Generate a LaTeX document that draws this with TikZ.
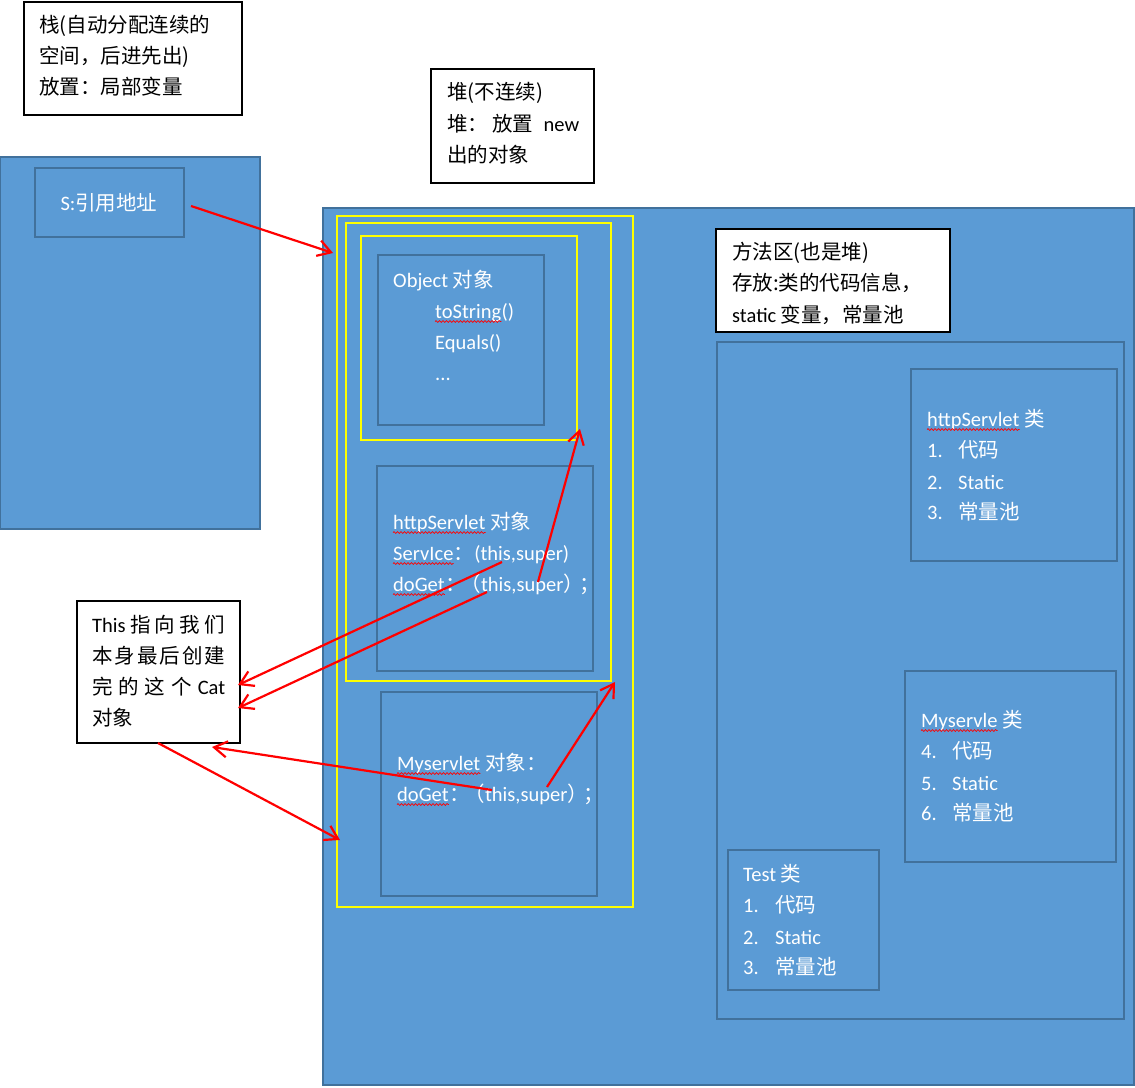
\documentclass[tikz,border=0pt]{standalone}
\usepackage{fontspec}
\setmainfont{Carlito}
\newfontfamily\cjkf{Noto Sans CJK SC}
\newcommand\zh[1]{{\cjkf #1}}
\usetikzlibrary{arrows.meta,decorations.pathmorphing}
\definecolor{mblue}{HTML}{5B9BD5}
\definecolor{mborder}{HTML}{41719C}
\definecolor{myellow}{HTML}{FFFF00}
\newcommand\rbox[6]{\node[#6, inner sep=0, minimum width={#4-#2}, minimum height={#5-#3}] (#1) at ({(#2+#4)/2},{(#3+#5)/2}) {};}
\newcommand\wv[1]{\draw[wave] ([yshift=-3.5pt]#1.base west) -- ([yshift=-3.5pt]#1.base east);}
\begin{document}
\begin{tikzpicture}[x=1pt,y=-1pt,
  bluebox/.style={fill=mblue, draw=mborder, line width=2.4pt},
  innerbox/.style={draw=mborder, line width=2.4pt},
  ybox/.style={draw=myellow, line width=2.4pt},
  labelbox/.style={fill=white, draw=black, line width=2.4pt},
  wtxt/.style={text=white, anchor=base west, inner sep=0, font=\fontsize{20.5}{24}\selectfont},
  btxt/.style={text=black, anchor=base west, inner sep=0, font=\fontsize{20.5}{24}\selectfont},
  wave/.style={draw=red, line width=0.7pt, decorate, decoration={snake, segment length=3.5pt, amplitude=0.9pt}},
  redarrow/.style={draw=red, line width=2.2pt, -{Straight Barb[length=13pt,width=16pt]}}]
\useasboundingbox (0,0) rectangle (1135,1087);

% ---- stack ----
\rbox{stacklbl}{24}{2}{242}{115}{labelbox}
\node[btxt] (stk1) at (39,32) {\zh{栈(自动分配连续的}};
\node[btxt] (stk2) at (39,63) {\zh{空间，后进先出)}};
\node[btxt] (stk3) at (39,94) {\zh{放置：局部变量}};

\rbox{stack}{0}{157}{260}{529}{bluebox}
\rbox{sbox}{35}{168}{184}{237}{innerbox}
\node[wtxt, anchor=base] (stxt) at (109,210) {S:\zh{引用地址}};

% ---- heap ----
\rbox{heaplbl}{431}{69}{594}{183}{labelbox}
\node[btxt] (hp1) at (447,99) {\zh{堆(不连续)}};
\node[btxt] (hp2) at (447,131) {\makebox[132pt][s]{\zh{堆：}\hspace{4pt}\zh{放置}\hfill new}};
\node[btxt] (hp3) at (447,162) {\zh{出的对象}};

\rbox{heap}{323}{208}{1134}{1085}{bluebox}

\rbox{y1}{337}{216}{633}{907}{ybox}
\rbox{y2}{346}{223}{611}{681}{ybox}
\rbox{y3}{361}{236}{577}{440}{ybox}

% Object
\rbox{objbox}{378}{255}{544}{425}{innerbox}
\node[wtxt] (ob1) at (393,287) {Object \zh{对象}};
\node[wtxt] (ob2w) at (435,318) {toString};
\node[wtxt] (ob2) at (ob2w.base east) {()};
\node[wtxt] (ob3) at (435,349) {Equals()};
\node[wtxt] (ob4) at (435,380) {...};

% httpServlet object
\rbox{hsobj}{377}{466}{593}{671}{innerbox}
\node[wtxt] (hs1w) at (393,529) {httpServlet};
\node[wtxt] (hs1) at (hs1w.base east) {\ \zh{对象}};
\node[wtxt] (hs2w) at (393,560) {ServIce};
\node[wtxt] (hs2) at (hs2w.base east) {\zh{：}(this,super)};
\node[wtxt] (hs3w) at (393,591) {doGet};
\node[wtxt] (hs3) at (hs3w.base east) {\zh{：}\hspace{-5pt}\zh{（}this,super\zh{）}\hspace{-4pt}\zh{；}};

% Myservlet object
\rbox{msobj}{381}{692}{597}{896}{innerbox}
\node[wtxt] (ms1w) at (397,770) {Myservlet};
\node[wtxt] (ms1) at (ms1w.base east) {\ \zh{对象：}};
\node[wtxt] (ms2w) at (397,801) {doGet};
\node[wtxt] (ms2) at (ms2w.base east) {\zh{：}\hspace{-5pt}\zh{（}this,super\zh{）}\hspace{-4pt}\zh{；}};

% method area
\rbox{marea}{717}{342}{1124}{1019}{innerbox}
\rbox{malbl}{716}{229}{950}{332}{labelbox}
\node[btxt] (ma1) at (732,259) {\zh{方法区(也是堆)}};
\node[btxt] (ma2) at (732,290) {\zh{存放:类的代码信息，}};
\node[btxt] (ma3) at (732,322) {static \zh{变量，常量池}};

\rbox{hscls}{911}{369}{1117}{561}{innerbox}
\node[wtxt] (hc1w) at (927,426) {httpServlet};
\node[wtxt] (hc1) at (hc1w.base east) {\ \zh{类}};
\node[wtxt] (hc2) at (927,457) {\makebox[31pt][l]{1.}\zh{代码}};
\node[wtxt] (hc3) at (927,489) {\makebox[31pt][l]{2.}Static};
\node[wtxt] (hc4) at (927,519) {\makebox[31pt][l]{3.}\zh{常量池}};

\rbox{mscls}{905}{671}{1116}{862}{innerbox}
\node[wtxt] (mc1w) at (921,727) {Myservle};
\node[wtxt] (mc1) at (mc1w.base east) {\ \zh{类}};
\node[wtxt] (mc2) at (921,758) {\makebox[31pt][l]{4.}\zh{代码}};
\node[wtxt] (mc3) at (921,790) {\makebox[31pt][l]{5.}Static};
\node[wtxt] (mc4) at (921,820) {\makebox[31pt][l]{6.}\zh{常量池}};

\rbox{tcls}{728}{850}{879}{990}{innerbox}
\node[wtxt] (tc1) at (743,881) {Test \zh{类}};
\node[wtxt] (tc2) at (743,912) {\makebox[32pt][l]{1.}\zh{代码}};
\node[wtxt] (tc3) at (743,944) {\makebox[32pt][l]{2.}Static};
\node[wtxt] (tc4) at (743,974) {\makebox[32pt][l]{3.}\zh{常量池}};

% spell-check underlines
\wv{ob2w} \wv{hs1w} \wv{hs2w} \wv{hs3w} \wv{ms1w} \wv{ms2w} \wv{hc1w} \wv{mc1w}

% This box
\rbox{thisbox}{77}{601}{240}{743}{labelbox}
\node[btxt] (th1) at (92,632) {\makebox[133pt][s]{This\hfill\zh{指}\hfill\zh{向}\hfill\zh{我}\hfill\zh{们}}};
\node[btxt] (th2) at (92,663) {\makebox[133pt][s]{\zh{本}\hfill\zh{身}\hfill\zh{最}\hfill\zh{后}\hfill\zh{创}\hfill\zh{建}}};
\node[btxt] (th3) at (92,694) {\makebox[133pt][s]{\zh{完}\hfill\zh{的}\hfill\zh{这}\hfill\zh{个}\hfill Cat}};
\node[btxt] (th4) at (92,725) {\zh{对象}};

% arrow end points
\coordinate (a1s) at (191,206);  \coordinate (a1e) at (333,253);
\coordinate (a2s) at (538,582);  \coordinate (a2e) at (580,429);
\coordinate (a3s) at (502,562);  \coordinate (a3e) at (238,685);
\coordinate (a4s) at (487,592);  \coordinate (a4e) at (238,708);
\coordinate (a5s) at (547,787);  \coordinate (a5e) at (615,682);
\coordinate (a6s) at (492,790);  \coordinate (a6e) at (212,747);
\coordinate (a7s) at (158,743);  \coordinate (a7e) at (340,840);

\draw[redarrow] (a1s) -- (a1e);
\draw[redarrow] (a2s) -- (a2e);
\draw[redarrow] (a3s) -- (a3e);
\draw[redarrow] (a4s) -- (a4e);
\draw[redarrow] (a5s) -- (a5e);
\draw[redarrow] (a6s) -- (a6e);
\draw[redarrow] (a7s) -- (a7e);
\end{tikzpicture}
\end{document}
